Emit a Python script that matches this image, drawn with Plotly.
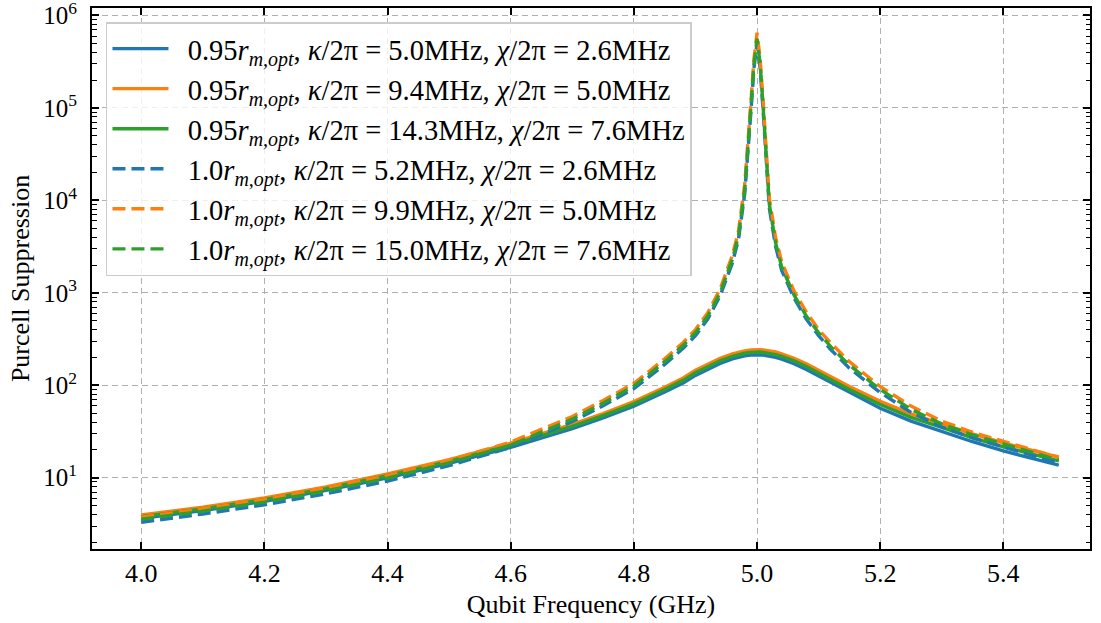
import plotly.graph_objects as go

# Qubit frequency (GHz)
freq = [4.0, 4.1, 4.2, 4.3, 4.4, 4.5, 4.6, 4.7, 4.75, 4.8, 4.85, 4.88, 4.9, 4.92, 4.94, 4.96,
        4.97, 4.98, 4.99, 4.995, 5.0, 5.005, 5.01, 5.02, 5.03, 5.04, 5.06, 5.08, 5.1, 5.12,
        5.15, 5.2, 5.25, 5.3, 5.35, 5.4, 5.45, 5.49]

# 0.95 r_m,opt (solid)
solid_k50 = [3.65, 4.42, 5.55, 7.3, 10.0, 14.3, 21.3, 34, 44.3, 59.3, 84.5, 106, 128, 150, 172, 193,
             201, 208, 212, 214, 215, 214, 212, 207, 200, 192, 171, 148, 126, 106,
             82.5, 56.5, 41, 31.8, 24.5, 19.5, 15.9, 13.7]
solid_k94 = [3.95, 4.8, 6.05, 7.95, 11.0, 15.7, 23.6, 37.8, 49.5, 66.5, 95, 120, 145, 170, 196, 219,
             229, 236, 241, 243, 244, 243, 241, 236, 229, 219, 196, 171, 146, 124,
             97, 67, 49, 38.3, 29.8, 23.8, 19.4, 16.7]
solid_k143 = [3.8, 4.6, 5.8, 7.6, 10.5, 15.0, 22.5, 36, 47, 63, 90, 113, 137, 160, 184, 206,
              215, 222, 227, 229, 230, 229, 227, 222, 215, 206, 184, 160, 136, 115,
              90, 62, 45, 35, 27, 21.6, 17.6, 15.2]

# 1.0 r_m,opt (dashed)
dash_k52 = [3.3, 4.05, 5.1, 6.7, 9.2, 13.5, 21.3, 40.5, 60, 92, 168, 252, 345, 520, 930, 2100,
            3850, 11800, 90000, 270000, 500000, 270000, 90000, 8200, 3200, 1750, 880, 520, 345, 242,
            153, 83.5, 51, 35.3, 27, 21.4, 17.2, 14.4]
dash_k99 = [3.75, 4.6, 5.8, 7.65, 10.5, 15.4, 24.3, 46, 68.5, 105, 193, 290, 400, 610, 1100, 2550,
            4700, 15000, 115000, 340000, 650000, 340000, 115000, 10500, 4000, 2150, 1050, 620, 400, 285,
            180, 97, 59.5, 41, 31, 24.6, 19.8, 16.6]
dash_k150 = [3.55, 4.35, 5.45, 7.2, 9.9, 14.5, 22.5, 43, 64, 98, 180, 270, 370, 560, 1000, 2300,
             4200, 13000, 100000, 300000, 560000, 300000, 100000, 9000, 3500, 1900, 950, 560, 370, 260,
             165, 90, 55, 38, 29, 23, 18.5, 15.5]

NB = "\u00a0\u00a0"
labels = [
    NB + "0.95<i>r</i><sub><i>m,opt</i></sub>, <i>κ</i>/2π = 5.0MHz, <i>χ</i>/2π = 2.6MHz",
    NB + "0.95<i>r</i><sub><i>m,opt</i></sub>, <i>κ</i>/2π = 9.4MHz, <i>χ</i>/2π = 5.0MHz",
    NB + "0.95<i>r</i><sub><i>m,opt</i></sub>, <i>κ</i>/2π = 14.3MHz, <i>χ</i>/2π = 7.6MHz",
    NB + "1.0<i>r</i><sub><i>m,opt</i></sub>, <i>κ</i>/2π = 5.2MHz, <i>χ</i>/2π = 2.6MHz",
    NB + "1.0<i>r</i><sub><i>m,opt</i></sub>, <i>κ</i>/2π = 9.9MHz, <i>χ</i>/2π = 5.0MHz",
    NB + "1.0<i>r</i><sub><i>m,opt</i></sub>, <i>κ</i>/2π = 15.0MHz, <i>χ</i>/2π = 7.6MHz",
]
series = [solid_k50, solid_k94, solid_k143, dash_k52, dash_k99, dash_k150]
colors = ["#1f77b4", "#ff7f0e", "#2ca02c", "#1f77b4", "#ff7f0e", "#2ca02c"]
dashes = ["solid", "solid", "solid", "13px,6px", "13px,6px", "13px,6px"]

ytick_vals = [10, 100, 1000, 10000, 100000, 1000000]
ytick_text = ["10<sup>1</sup>", "10<sup>2</sup>", "10<sup>3</sup>", "10<sup>4</sup>",
              "10<sup>5</sup>", "10<sup>6</sup>"]
xtick_vals = [4.0, 4.2, 4.4, 4.6, 4.8, 5.0, 5.2, 5.4]
minor_vals = [m * 10 ** e for e in range(0, 7) for m in range(2, 10)]

FONT = "Liberation Serif"

fig = go.Figure()
for i, (y, name, c, d) in enumerate(zip(series, labels, colors, dashes)):
    fig.add_trace(go.Scatter(x=freq, y=y, mode="lines", name=name, legendgroup=f"g{i}",
                             line=dict(color=c, width=3.4, dash=d)))

fig.update_layout(
    width=1101, height=623,
    margin=dict(l=92, r=11, t=8, b=74),
    paper_bgcolor="white", plot_bgcolor="white",
    font=dict(family=FONT, size=26, color="black"),
    showlegend=True,
    legend=dict(x=0.014, y=0.974, xanchor="left", yanchor="top",
                bgcolor="rgba(255,255,255,0.8)", bordercolor="#cccccc", borderwidth=1.5,
                font=dict(family=FONT, size=28.5), itemwidth=56, tracegroupgap=8,
                traceorder="normal"),
)
fig.update_xaxes(
    range=[3.920, 5.5407], tickvals=xtick_vals, ticktext=[f"{v:.1f}" for v in xtick_vals],
    showline=True, linecolor="black", linewidth=2, mirror="ticks",
    ticks="inside", ticklen=7, tickwidth=1.5, tickcolor="black",
    showgrid=True, gridcolor="#b0b0b0", gridwidth=1.3, griddash="6px,4px",
    zeroline=False, automargin=False, ticklabeloverflow="allow",
    title=dict(text="Qubit Frequency (GHz)", font=dict(family=FONT, size=26), standoff=8),
    tickfont=dict(family=FONT, size=26),
)
fig.update_yaxes(
    type="log", range=[0.229, 6.081], tickvals=ytick_vals, ticktext=ytick_text,
    showline=True, linecolor="black", linewidth=2, mirror="ticks",
    ticks="inside", ticklen=7, tickwidth=1.5, tickcolor="black",
    minor=dict(tickmode="array", tickvals=minor_vals, ticks="inside", ticklen=4.5,
               tickwidth=1.2, tickcolor="black", showgrid=False),
    showgrid=True, gridcolor="#b0b0b0", gridwidth=1.3, griddash="6px,4px",
    zeroline=False, automargin=False, ticklabelstandoff=8, ticklabeloverflow="allow",
    title=dict(text="Purcell Suppression", font=dict(family=FONT, size=26), standoff=6),
    tickfont=dict(family=FONT, size=25),
)

fig.write_html("out.html", config={"displayModeBar": False},
               post_script="document.body.style.margin='0px';")
